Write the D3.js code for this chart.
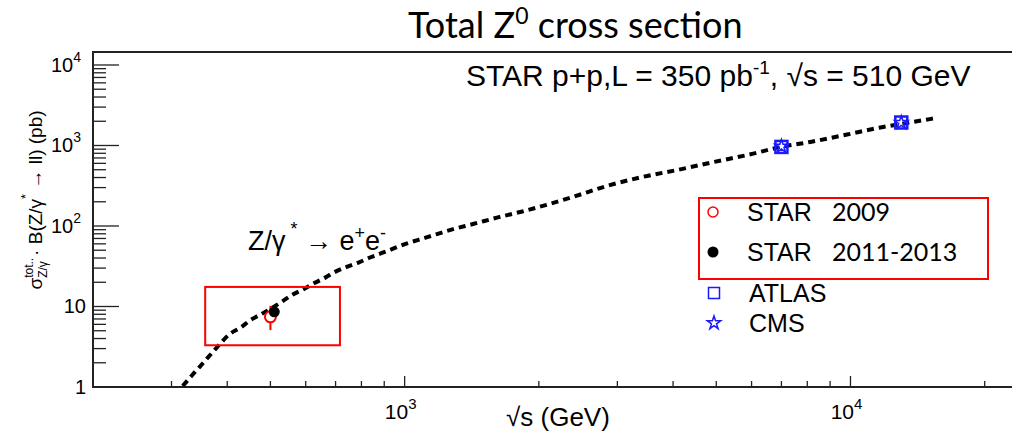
<!DOCTYPE html>
<html>
<head>
<meta charset="utf-8">
<script src="https://cdn.jsdelivr.net/npm/d3@7"></script>
<style>
html, body { margin: 0; padding: 0; background: #fff; }
text { font-family: "Liberation Sans", Arial, sans-serif; fill: #000; }
.calibri { font-family: Lato, "Open Sans", sans-serif; }
</style>
</head>
<body>
<div id="chart"></div>
<script>
'use strict';

// dashed theory curve
var curveEnergy = [318, 334, 347, 361, 379, 405, 429, 451, 480, 532, 560, 595, 626, 665, 700, 744, 790, 839, 899,
    1005, 1124, 1268, 1430, 1627, 1836, 2071, 2397, 2848, 3411, 4121, 4937, 5969, 6966, 8130, 9830, 11680, 13170, 15380];
var curveSigma = [1.03, 1.41, 1.78, 2.28, 3.09, 4.54, 5.48, 6.78, 8.19, 11.6, 14.0, 16.5, 19.4, 23.0, 27.1, 31.3, 35.4, 40.9, 47.2,
    60.0, 72.6, 89.7, 106.5, 128.8, 151.6, 182, 232, 315, 406, 501, 624, 778, 959, 1107, 1369, 1675, 1877, 2168];

// STAR 2009 (open) and 2011-2013 (filled)
var starEnergy = [500, 510];
var starSigma = [7.45, 8.6];
var starErrLow = [2.36, 0];
var starErrHigh = [2.75, 0];

// LHC points
var lhcEnergy = [7000, 13000];
var atlasSigma = [960, 1930];
var cmsSigma = [975, 1920];

// highlighted region around the STAR points
var boxEnergy = [357, 716];
var boxSigma = [3.3, 17.5];

var xMajorTicks = [1000, 10000];
var xMajorPowers = ['3', '4'];
var xMinorTicks = [300, 400, 500, 600, 700, 800, 900, 2000, 3000, 4000, 5000, 6000, 7000, 8000, 9000, 20000];
var yMajorTicks = [1, 10, 100, 1000, 10000];
var yMajorLabels = [['1', ''], ['10', ''], ['10', '2'], ['10', '3'], ['10', '4']];
var yMinorTicks = [];
[1, 10, 100, 1000].forEach(function(d) {
    for (var k = 2; k <= 9; k++) { yMinorTicks.push(d * k); }
});

var legendNames = ['STAR', 'STAR', 'ATLAS', 'CMS'];
var legendYears = ['2009', '2011-2013', '', ''];

var width = 1012;
var height = 433;
var plotLeft = 93, plotRight = 1020, plotTop = 52, plotBottom = 387;

var red = '#ff0000';
var blue = '#1a1aff';

var svg = d3.select('#chart').append('svg')
    .attr('width', width)
    .attr('height', height);

var x = d3.scaleLog().domain([200, 24000]).range([plotLeft, plotRight]);
var y = d3.scaleLog().domain([1, 14500]).range([plotBottom, plotTop]);

svg.append('clipPath').attr('id', 'plotClip')
    .append('rect')
    .attr('x', plotLeft).attr('y', plotTop)
    .attr('width', plotRight - plotLeft).attr('height', plotBottom - plotTop);

// ticks
var ticks = svg.append('g').attr('stroke', '#222').attr('stroke-width', 1.3);
ticks.selectAll('.ymaj').data(yMajorTicks).enter().append('line')
    .attr('x1', plotLeft).attr('x2', plotLeft + 26)
    .attr('y1', function(d) { return y(d); })
    .attr('y2', function(d) { return y(d); });
ticks.selectAll('.ymin').data(yMinorTicks).enter().append('line')
    .attr('x1', plotLeft).attr('x2', plotLeft + 13)
    .attr('y1', function(d) { return y(d); })
    .attr('y2', function(d) { return y(d); });
ticks.selectAll('.xmaj').data(xMajorTicks).enter().append('line')
    .attr('x1', function(d) { return x(d); })
    .attr('x2', function(d) { return x(d); })
    .attr('y1', plotBottom).attr('y2', plotBottom - 11);
ticks.selectAll('.xmin').data(xMinorTicks).enter().append('line')
    .attr('x1', function(d) { return x(d); })
    .attr('x2', function(d) { return x(d); })
    .attr('y1', plotBottom).attr('y2', plotBottom - 6);

// frame (right side is cut off in the picture)
svg.append('path')
    .attr('d', 'M' + plotRight + ',' + plotTop + 'H' + plotLeft + 'V' + plotBottom + 'H' + plotRight)
    .attr('fill', 'none')
    .attr('stroke', '#222')
    .attr('stroke-width', 2);

// tick labels
var yLab = svg.append('g').selectAll('text').data(yMajorTicks).enter().append('text')
    .attr('x', function(d, i) { return yMajorLabels[i][1] ? 81 : 86; })
    .attr('y', function(d) { return y(d) + 7; })
    .attr('text-anchor', 'end')
    .style('font-size', '20px');
yLab.append('tspan').text(function(d, i) { return yMajorLabels[i][0]; });
yLab.append('tspan')
    .attr('dy', -10)
    .style('font-size', '14px')
    .text(function(d, i) { return yMajorLabels[i][1]; });

var xLab = svg.append('g').selectAll('text').data(xMajorTicks).enter().append('text')
    .attr('x', function(d) { return x(d) - 4; })
    .attr('y', plotBottom + 32)
    .attr('text-anchor', 'middle')
    .style('font-size', '21px');
xLab.append('tspan').text('10');
xLab.append('tspan').attr('dy', -10).style('font-size', '15px')
    .text(function(d, i) { return xMajorPowers[i]; });

// axis titles
svg.append('text')
    .attr('x', 506).attr('y', 426)
    .style('font-size', '26px')
    .text('\u221As (GeV)');

var yTitle = svg.append('text')
    .attr('transform', 'translate(42,200) rotate(-90)')
    .attr('text-anchor', 'middle')
    .style('font-size', '19px');
yTitle.append('tspan').text('\u03C3');
var supTot = yTitle.append('tspan').attr('dy', -9).style('font-size', '12px').text('tot..');
var subZ = yTitle.append('tspan').attr('dy', 14).style('font-size', '12px').text('Z/\u03B3');
subZ.attr('dx', -supTot.node().getComputedTextLength());
yTitle.append('tspan').attr('dy', -5).text(' \u00B7 B(Z/\u03B3');
yTitle.append('tspan').attr('dy', -12).style('font-size', '13px').text('*');
yTitle.append('tspan').attr('dy', 12).text(' \u2192 ll) (pb)');

// title
var title = svg.append('text')
    .attr('class', 'calibri')
    .attr('x', 408).attr('y', 38)
    .style('font-size', '36px');
title.append('tspan').text('Total Z');
title.append('tspan').attr('dy', -14).style('font-size', '23px').text('0');
title.append('tspan').attr('dy', 14).text(' cross section');

// run info
var info = svg.append('text')
    .attr('x', 466).attr('y', 86)
    .style('font-size', '30px');
info.append('tspan').text('STAR p+p,L = 350 pb');
info.append('tspan').attr('dy', -12).style('font-size', '19px').text('-1');
info.append('tspan').attr('dy', 12).text(',  \u221As = 510 GeV');

// curve label
var zlab = svg.append('text')
    .attr('x', 248).attr('y', 250)
    .style('font-size', '27px');
zlab.append('tspan').text('Z/\u03B3');
zlab.append('tspan').attr('dy', -15).style('font-size', '18px').text(' *');
zlab.append('tspan').attr('dy', 15).text(' \u2192 e');
zlab.append('tspan').attr('dy', -11).style('font-size', '18px').text('+');
zlab.append('tspan').attr('dy', 11).text('e');
zlab.append('tspan').attr('dy', -11).style('font-size', '18px').text('-');

// theory curve
var curveData = curveEnergy.map(function(e, i) { return [e, curveSigma[i]]; });
var line = d3.line()
    .x(function(d) { return x(d[0]); })
    .y(function(d) { return y(d[1]); })
    .curve(d3.curveMonotoneX);
svg.append('path')
    .datum(curveData)
    .attr('clip-path', 'url(#plotClip)')
    .attr('d', line)
    .attr('fill', 'none')
    .attr('stroke', '#000')
    .attr('stroke-width', 4)
    .attr('stroke-dasharray', '7,5');

// highlight box
svg.append('rect')
    .attr('x', x(boxEnergy[0]))
    .attr('y', y(boxSigma[1]))
    .attr('width', x(boxEnergy[1]) - x(boxEnergy[0]))
    .attr('height', y(boxSigma[0]) - y(boxSigma[1]))
    .attr('fill', 'none')
    .attr('stroke', red)
    .attr('stroke-width', 2);

// STAR 2009 error bar, drawn outside the marker
var r = 5.5;
svg.append('line')
    .attr('x1', x(starEnergy[0])).attr('x2', x(starEnergy[0]))
    .attr('y1', y(starSigma[0] - starErrLow[0]))
    .attr('y2', y(starSigma[0]) + r)
    .attr('stroke', red).attr('stroke-width', 2);
svg.append('line')
    .attr('x1', x(starEnergy[0])).attr('x2', x(starEnergy[0]))
    .attr('y1', y(starSigma[0] + starErrHigh[0]))
    .attr('y2', y(starSigma[0]) - r)
    .attr('stroke', red).attr('stroke-width', 2);
svg.append('circle')
    .attr('cx', x(starEnergy[0])).attr('cy', y(starSigma[0])).attr('r', r)
    .attr('fill', 'none').attr('stroke', red).attr('stroke-width', 2);
svg.append('circle')
    .attr('cx', x(starEnergy[1])).attr('cy', y(starSigma[1])).attr('r', r)
    .attr('fill', '#000');

// LHC points
var star = d3.symbol().type(d3.symbolStar).size(55);
svg.selectAll('.atlas').data(lhcEnergy).enter().append('rect')
    .attr('x', function(d) { return x(d) - 6; })
    .attr('y', function(d, i) { return y(atlasSigma[i]) - 6; })
    .attr('width', 12).attr('height', 12)
    .attr('fill', 'none').attr('stroke', blue).attr('stroke-width', 2.5);
svg.selectAll('.cms').data(lhcEnergy).enter().append('path')
    .attr('transform', function(d, i) { return 'translate(' + x(d) + ',' + y(cmsSigma[i]) + ')'; })
    .attr('d', star)
    .attr('fill', 'none').attr('stroke', blue).attr('stroke-width', 1.5);

// legend
var legendRowY = [212, 252, 293, 323];
svg.append('rect')
    .attr('x', 699).attr('y', 198)
    .attr('width', 289).attr('height', 81)
    .attr('fill', 'none').attr('stroke', red).attr('stroke-width', 2);

var lg = svg.append('g');
lg.append('circle').attr('cx', 713).attr('cy', legendRowY[0]).attr('r', 5)
    .attr('fill', 'none').attr('stroke', red).attr('stroke-width', 1.5);
lg.append('circle').attr('cx', 713).attr('cy', legendRowY[1]).attr('r', 5.5)
    .attr('fill', '#000');
lg.append('rect').attr('x', 708.5).attr('y', legendRowY[2] - 5.5)
    .attr('width', 11).attr('height', 11)
    .attr('fill', 'none').attr('stroke', blue).attr('stroke-width', 1.5);
lg.append('path')
    .attr('transform', 'translate(714,' + legendRowY[3] + ')')
    .attr('d', star)
    .attr('fill', 'none').attr('stroke', blue).attr('stroke-width', 1.5);

lg.selectAll('.name').data(legendNames).enter().append('text')
    .attr('x', function(d, i) { return i < 2 ? 747 : 749; })
    .attr('y', function(d, i) { return legendRowY[i] + 9; })
    .style('font-size', '25px')
    .text(function(d) { return d; });
lg.selectAll('.year').data(legendYears).enter().append('text')
    .attr('class', 'calibri')
    .attr('x', 832)
    .attr('y', function(d, i) { return legendRowY[i] + 9; })
    .style('font-size', '25px')
    .text(function(d) { return d; });
</script>
</body>
</html>
